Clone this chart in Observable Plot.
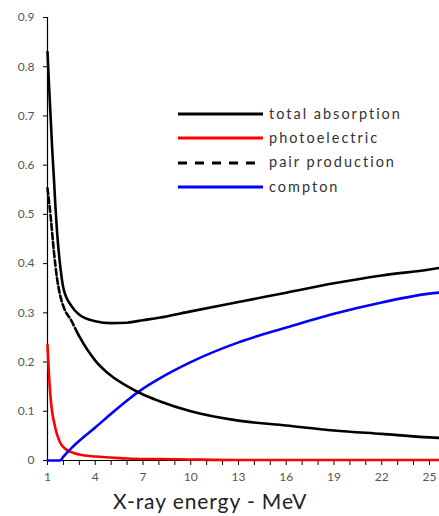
<!DOCTYPE html>
<html>
<head>
<meta charset="utf-8">
<script src="https://cdn.jsdelivr.net/npm/d3@7"></script>
<script src="https://cdn.jsdelivr.net/npm/@observablehq/plot@0.6"></script>
<style>
  html, body { margin: 0; padding: 0; background: #fff; }
  #wrap { position: relative; width: 439px; height: 516px; overflow: hidden; font-family: Lato, "Open Sans", sans-serif; }
  #legend { position: absolute; left: 178px; top: 102px; }
  .row { display: flex; align-items: center; height: 24.3px; }
  .row svg { display: block; margin-right: 6px; }
  .row span { font-size: 14.5px; letter-spacing: 2px; color: #333; line-height: 1; }
  #xlabel { position: absolute; left: 113px; top: 490px; font-size: 21px; color: #222; letter-spacing: 0.9px; line-height: 1; white-space: nowrap; }
</style>
</head>
<body>
<div id="wrap"></div>
<script>
// ---- data ----
const energy      = [1, 1.1, 1.2, 1.3, 1.4, 1.5, 1.6, 1.8, 2, 2.5, 3, 4, 5, 6, 7, 8, 10, 13, 16, 19, 22, 25, 25.6];
const totalAbs    = [0.83, 0.76, 0.695, 0.63, 0.575, 0.515, 0.465, 0.395, 0.35, 0.314, 0.296, 0.283, 0.279, 0.28, 0.285, 0.29, 0.303, 0.322, 0.341, 0.36, 0.376, 0.388, 0.391];
const photo       = [0.235, 0.17, 0.125, 0.097, 0.08, 0.065, 0.053, 0.036, 0.027, 0.017, 0.012, 0.008, 0.006, 0.004, 0.003, 0.003, 0.002, 0.001, 0.001, 0.001, 0.001, 0.001, 0.001];
const pair        = [0.553, 0.525, 0.495, 0.46, 0.425, 0.395, 0.37, 0.335, 0.313, 0.284, 0.252, 0.203, 0.172, 0.151, 0.134, 0.121, 0.1, 0.081, 0.071, 0.061, 0.054, 0.047, 0.046];
const compton     = [0, 0, 0, 0, 0, 0, 0, 0, 0.008, 0.025, 0.04, 0.067, 0.095, 0.122, 0.146, 0.166, 0.2, 0.24, 0.27, 0.298, 0.321, 0.339, 0.341];
const seriesNames = ["total absorption", "photoelectric", "pair production", "compton"];
const seriesColors = ["black", "#ff0000", "black", "#0000ff"];
const yTicks = [0, 0.1, 0.2, 0.3, 0.4, 0.5, 0.6, 0.7, 0.8, 0.9];
const xTicks = d3.range(1, 26);
const xLabelTicks = [1, 4, 7, 10, 13, 16, 19, 22, 25];
const xDomain = [1, 25.63];
const yDomain = [0, 0.9];
const xTitle = "X-ray energy - MeV";

const toRows = (ys) => energy.map((x, i) => ({x, y: ys[i]}));
const totalRows = toRows(totalAbs);
const photoRows = toRows(photo);
const pairRows = toRows(pair);
const comptonRows = toRows(compton);

// pair production: dashed near the start, visually solid further on (as in the source)
const pairDash = Array(16).fill("6,3").join(",") + ",3000,0";

const chart = Plot.plot({
  width: 439,
  height: 516,
  marginTop: 17,
  marginLeft: 47,
  marginRight: 0,
  marginBottom: 56,
  style: {fontFamily: "Lato, 'Open Sans', sans-serif", fontSize: "12px", background: "white", overflow: "visible"},
  x: {domain: xDomain},
  y: {domain: yDomain},
  marks: [
    Plot.axisY({ticks: yTicks, tickSize: 4, tickPadding: 9, tickFormat: d => d === 0 ? "0" : d3.format(".1f")(d), label: null, stroke: "black", fill: "#555", style: {letterSpacing: "1px"}}),
    Plot.axisX({ticks: xTicks, tickSize: 5, tickPadding: 7, tickFormat: d => xLabelTicks.includes(d) ? String(d) : "", label: null, stroke: "black", fill: "#555", style: {letterSpacing: "1px"}}),
    Plot.frame({anchor: "left", stroke: "black", strokeWidth: 1.2}),
    Plot.frame({anchor: "bottom", stroke: "black", strokeWidth: 1.2}),
    Plot.line(photoRows, {x: "x", y: "y", stroke: seriesColors[1], strokeWidth: 2.6, curve: "monotone-x"}),
    Plot.line(comptonRows, {x: "x", y: "y", stroke: seriesColors[3], strokeWidth: 2.6, curve: "monotone-x"}),
    Plot.line(pairRows, {x: "x", y: "y", stroke: seriesColors[2], strokeWidth: 2.6, strokeDasharray: pairDash, curve: "monotone-x"}),
    Plot.line(totalRows, {x: "x", y: "y", stroke: seriesColors[0], strokeWidth: 2.6, curve: "monotone-x"})
  ]
});

const wrap = document.getElementById("wrap");
wrap.appendChild(chart);

// legend
const legend = document.createElement("div");
legend.id = "legend";
seriesNames.forEach((name, i) => {
  const row = document.createElement("div");
  row.className = "row";
  const dash = name === "pair production" ? ' stroke-dasharray="9,8"' : "";
  row.innerHTML = `<svg width="85" height="6"><line x1="0" x2="85" y1="3" y2="3" stroke="${seriesColors[i]}" stroke-width="3"${dash}/></svg><span>${name}</span>`;
  legend.appendChild(row);
});
wrap.appendChild(legend);

const xl = document.createElement("div");
xl.id = "xlabel";
xl.textContent = xTitle;
wrap.appendChild(xl);
</script>
</body>
</html>
